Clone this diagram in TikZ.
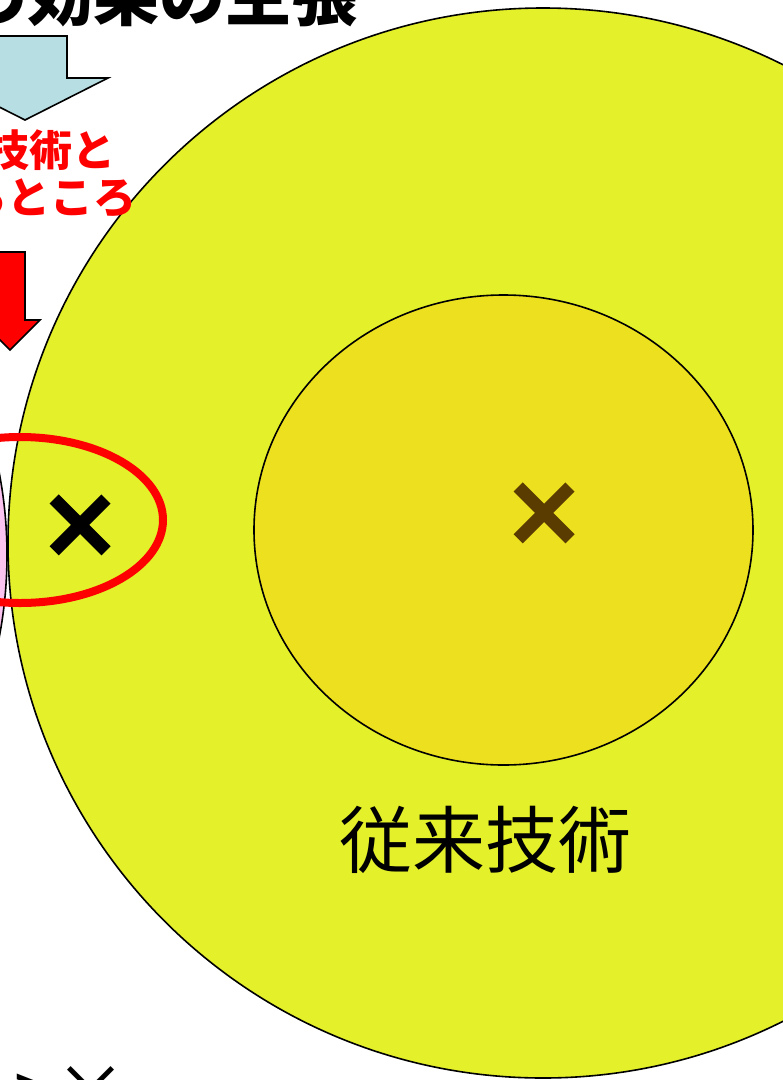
\documentclass[tikz,border=0pt]{standalone}
\usepackage{fontspec}
\newfontfamily\jp{Noto Sans CJK JP}
\newfontfamily\jpfat{Noto Sans CJK JP}[FakeBold=3]
\usetikzlibrary{positioning}
\definecolor{outeryellow}{RGB}{228,240,42}
\definecolor{inneryellow}{RGB}{237,224,30}
\definecolor{crossbrown}{RGB}{90,60,0}
\definecolor{arrowblue}{RGB}{183,222,226}
\definecolor{pinkfill}{RGB}{250,195,240}
\tikzstyle{field} = [draw=black, line width=1.6pt]
\tikzstyle{blockarrow} = [draw=black, line width=1.6pt, line join=miter]
\tikzstyle{crossmark} = [inner sep=0pt, font=\jpfat\bfseries\fontsize{86}{86}\selectfont]
\tikzstyle{bigtext} = [inner sep=0pt, font=\jp\fontsize{73}{80}\selectfont]

\begin{document}
\begin{tikzpicture}[x=1pt,y=-1pt]
  \useasboundingbox (0,0) rectangle (783,1080);
  \clip (0,0) rectangle (783,1080);
  % circles
  \draw [field, fill=pinkfill] (-428,555) circle (435pt);
  \draw [field, fill=outeryellow] (543,543) circle (535pt);
  \draw [field, fill=inneryellow] (503.5,530) ellipse [x radius=249.5pt, y radius=235pt];
  % heading and arrows
  \node (title) [anchor=base east, inner sep=0pt, font=\jp\bfseries\fontsize{66}{66}\selectfont] at (358,20) {の効果の主張};
  \path [blockarrow, fill=arrowblue] (-17,36) -- (67,36) -- (67,78) -- (108,78) -- (25,120) -- (-58,78) -- (-17,78) -- cycle;
  \node (diff) [align=center, text=red, inner sep=0pt, font=\jp\bfseries\fontsize{43}{47}\selectfont] at (51,174) {技術と\\るところ};
  \path [blockarrow, fill=red] (-5,252) -- (25,252) -- (25,320) -- (40,320) -- (10,350) -- (-20,320) -- (-5,320) -- cycle;
  % marks
  \node (convx) [crossmark, text=crossbrown] at (544,515) {×};
  \node (newx) [crossmark] at (80,527) {×};
  \node (conv) [bigtext] at (485,840) {従来技術};
  \draw [red, line width=8pt] (20,520) ellipse [x radius=143pt, y radius=83pt];
  \node (cmp) [anchor=west, bigtext] at (14,1092) {>×};
\end{tikzpicture}
\end{document}
